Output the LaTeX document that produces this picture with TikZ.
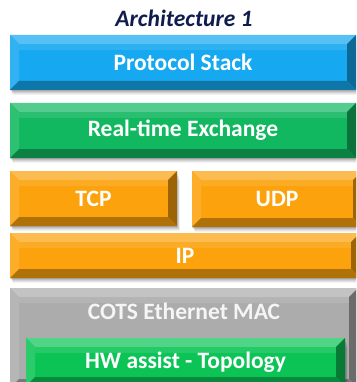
\documentclass[tikz,border=0pt]{standalone}
\usepackage{fontspec}
\setmainfont{Carlito}
\usetikzlibrary{calc}
\definecolor{cblue}{RGB}{22,168,240}
\definecolor{cgreen}{RGB}{18,184,96}
\definecolor{chw}{RGB}{12,196,86}
\definecolor{corange}{RGB}{252,162,12}
\definecolor{cgray}{RGB}{172,172,172}
\definecolor{ctitle}{RGB}{14,28,78}
\newcommand\lyrfont{\fontsize{23.5}{26}\selectfont\bfseries}
\tikzset{
  layer/.style={rectangle, inner sep=0pt, outer sep=0pt, anchor=north west, text=white, font=\lyrfont},
}
% name, x, y, w, h, color, text
\newcommand\layerbox[7]{%
  \foreach \s/\o in {1/0.10,3/0.09,5/0.08,7/0.06,9/0.05}{
    \fill[black, opacity=\o] (#2+\s*0.3,#3+\s) rectangle (#2+#4+\s*0.3,#3+#5+\s*0.6);
  }
  \node[layer, fill=#6, minimum width=#4pt, minimum height=#5pt] (#1) at (#2,#3) {};
  \fill[#6!72!white] (#1.north west) -- (#1.north east) -- ($(#1.north east)+(-9,9)$) -- ($(#1.north west)+(9,9)$) -- cycle;
  \fill[#6!88!white] (#1.north west) -- ($(#1.north west)+(9,9)$) -- ($(#1.south west)+(9,-9)$) -- (#1.south west) -- cycle;
  \fill[#6!62!black] (#1.north east) -- ($(#1.north east)+(-9,9)$) -- ($(#1.south east)+(-9,-9)$) -- (#1.south east) -- cycle;
  \fill[#6!70!black] (#1.south west) -- ($(#1.south west)+(9,-9)$) -- ($(#1.south east)+(-9,-9)$) -- (#1.south east) -- cycle;
  \fill[#6!90!white] ($(#1.north west)+(9,9)$) rectangle ($(#1.north east)+(-9,15)$);
  \node[text=white, font=\lyrfont, inner sep=0pt] (#1-t) at (#1.center) {#7};
}
\begin{document}
\begin{tikzpicture}[x=1pt, y=-1pt]
\clip (0,0) rectangle (356,382);
\fill[white] (0,0) rectangle (356,382);
\node[font=\fontsize{23.5}{26}\selectfont\bfseries\itshape, text=ctitle, inner sep=0pt] (title) at (184,18) {Architecture 1};
\layerbox{ps}{10}{35}{346}{55}{cblue}{Protocol Stack}
\layerbox{rt}{10}{103}{346}{55}{cgreen}{Real-time Exchange}
\layerbox{tcp}{10}{171}{167}{55}{corange}{TCP}
\layerbox{udp}{192}{171}{170}{56}{corange}{UDP}
\layerbox{ip}{10}{233}{350}{45}{corange}{IP}
\layerbox{cots}{10}{288}{348}{100}{cgray}{}
\node[text=white!92!gray, font=\lyrfont, inner sep=0pt] (cots-t) at (184,311) {COTS Ethernet MAC};
\layerbox{hw}{26}{338}{319}{48}{chw}{HW assist - Topology}
\end{tikzpicture}
\end{document}
